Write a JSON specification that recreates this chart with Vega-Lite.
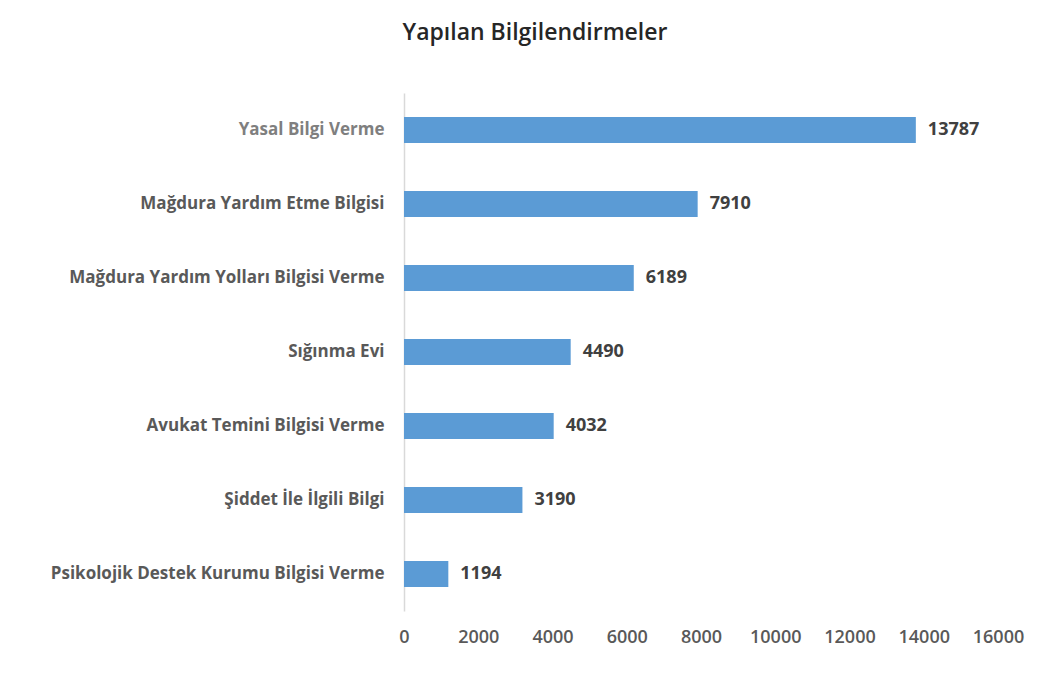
{
  "$schema": "https://vega.github.io/schema/vega-lite/v6.json",
  "autosize": {"type": "none"},
  "padding": {"left": 404, "top": 93, "right": 61, "bottom": 73},
  "width": 594,
  "height": 518,
  "background": "white",
  "title": {
    "text": "Yapılan Bilgilendirmeler",
    "font": "Open Sans",
    "fontSize": 23,
    "fontWeight": 600,
    "color": "#262626",
    "anchor": "middle",
    "dx": -166,
    "offset": 48
  },
  "data": {
    "values": [
      {"kategori": "Yasal Bilgi Verme", "sayi": 13787},
      {"kategori": "Mağdura Yardım Etme Bilgisi", "sayi": 7910},
      {"kategori": "Mağdura Yardım Yolları Bilgisi Verme", "sayi": 6189},
      {"kategori": "Sığınma Evi", "sayi": 4490},
      {"kategori": "Avukat Temini Bilgisi Verme", "sayi": 4032},
      {"kategori": "Şiddet İle İlgili Bilgi", "sayi": 3190},
      {"kategori": "Psikolojik Destek Kurumu Bilgisi Verme", "sayi": 1194}
    ]
  },
  "encoding": {
    "y": {
      "field": "kategori",
      "type": "nominal",
      "sort": null,
      "scale": {"paddingInner": 0.65, "paddingOuter": 0.325},
      "axis": {
        "title": null,
        "ticks": false,
        "domainColor": "#d9d9d9",
        "domainWidth": 1.5,
        "labelFont": "Open Sans",
        "labelFontSize": 17,
        "labelFontWeight": "bold",
        "labelColor": {"condition": {"test": "datum.value === 'Yasal Bilgi Verme'", "value": "#7f7f7f"}, "value": "#595959"},
        "labelPadding": 20,
        "labelLimit": 400
      }
    },
    "x": {
      "field": "sayi",
      "type": "quantitative",
      "scale": {"domain": [0, 16000], "nice": false},
      "axis": {
        "title": null,
        "values": [0, 2000, 4000, 6000, 8000, 10000, 12000, 14000, 16000],
        "format": "d",
        "grid": false,
        "domain": false,
        "ticks": false,
        "labelFlush": false,
        "labelFont": "Open Sans",
        "labelFontSize": 18,
        "labelFontWeight": 600,
        "labelColor": "#595959",
        "labelPadding": 17
      }
    }
  },
  "layer": [
    {
      "mark": {"type": "bar", "color": "#5b9bd5"}
    },
    {
      "mark": {
        "type": "text",
        "align": "left",
        "baseline": "middle",
        "dx": 12,
        "font": "Open Sans",
        "fontSize": 18,
        "fontWeight": "bold",
        "color": "#404040"
      },
      "encoding": {"text": {"field": "sayi", "type": "quantitative", "format": "d"}}
    }
  ],
  "config": {"view": {"stroke": null}}
}
